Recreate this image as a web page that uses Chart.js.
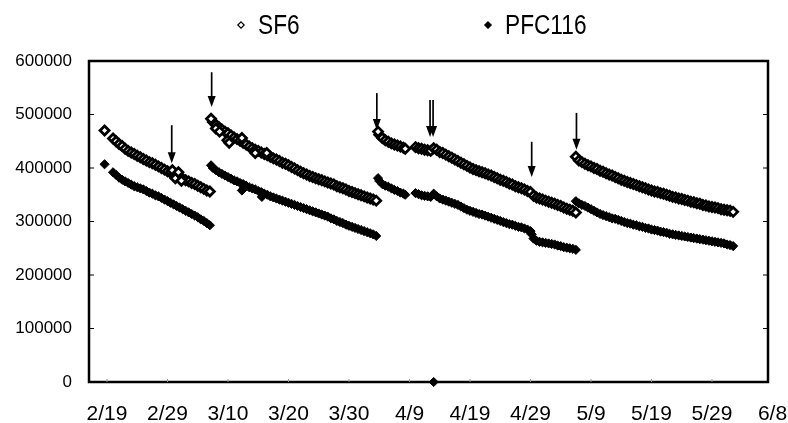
<!DOCTYPE html>
<html>
<head>
<meta charset="utf-8">
<title>SF6 / PFC116</title>
<script src="https://cdn.jsdelivr.net/npm/chart.js@4.4.1/dist/chart.umd.min.js"></script>
<style>
    html, body { margin: 0; padding: 0; background: #fff; }
    #wrap { width: 788px; height: 423px; position: relative; }
</style>
</head>
<body>
<div id="wrap"><canvas id="chart"></canvas></div>
<script>
(function() {
    'use strict';

    // Day 0 = 2/19. Inside each run the readings are half a day apart.
    const STEP = 0.5;

    const tickDays = [0, 10, 20, 30, 40, 50, 60, 70, 80, 90, 100, 110];
    const tickLabels = ['2/19', '2/29', '3/10', '3/20', '3/30', '4/9', '4/19', '4/29', '5/9', '5/19', '5/29', '6/8'];
    const yTicks = [0, 100000, 200000, 300000, 400000, 500000, 600000];

    // first day of each continuous run
    const runStarts = [1.0, 17.5, 45.0, 51.0, 77.5];

    // SF6, values in thousands
    const sf6Runs = [
        [455, 450, 445, 441, 436, 432, 429, 426, 423, 420, 417, 414, 411, 409, 406, 403, 400, 397, 394, 391,
         388, 387, 384, 380, 377, 375, 372, 370, 367, 364, 361, 358, 356],
        [486, 481, 476, 472, 468, 465, 461, 457, 454, 451, 447, 444, 440, 437, 434, 432, 429, 426, 424, 421,
         418, 416, 413, 410, 408, 405, 402, 399, 396, 393, 390, 388, 385, 383, 381, 379, 377, 375, 373, 371,
         369, 366, 364, 362, 360, 357, 355, 353, 351, 349, 347, 345, 343, 341, 339],
        [462, 456, 452, 449, 446, 444, 442, 440, 438],
        [439, 437, 436, 434, 433, 432, 437, 434, 430, 428, 425, 422, 419, 416, 413, 410, 407, 404, 401, 398,
         396, 394, 392, 390, 388, 386, 383, 381, 378, 376, 374, 371, 369, 366, 364, 362, 360, 357, 355, 348,
         345, 343, 341, 339, 337, 335, 333, 331, 329, 326, 324, 322, 320, 317],
        [421, 414, 411, 408, 405, 403, 400, 398, 395, 393, 390, 388, 386, 383, 381, 378, 376, 374, 372, 370,
         368, 366, 364, 362, 360, 358, 356, 355, 353, 352, 350, 348, 346, 345, 343, 342, 340, 339, 337, 336,
         334, 333, 331, 330, 328, 327, 326, 325, 323, 322, 321, 320, 318]
    ];
    // PFC116, values in thousands
    const pfcRuns = [
        [392, 387, 382, 378, 375, 372, 369, 366, 364, 362, 360, 357, 354, 352, 349, 347, 344, 341, 338, 335,
         332, 329, 326, 323, 320, 317, 314, 311, 308, 304, 301, 297, 293],
        [400, 396, 392, 389, 386, 383, 380, 377, 375, 372, 370, 367, 364, 362, 360, 357, 355, 352, 350, 347,
         345, 343, 341, 339, 337, 335, 333, 331, 329, 327, 325, 323, 321, 319, 317, 315, 313, 311, 309, 306,
         304, 301, 299, 297, 294, 292, 290, 288, 286, 284, 282, 280, 278, 276, 273],
        [376, 370, 367, 365, 362, 359, 357, 354, 352],
        [353, 351, 349, 348, 347, 346, 352, 347, 343, 341, 339, 337, 335, 333, 331, 328, 325, 322, 320, 318,
         316, 314, 313, 311, 309, 307, 305, 303, 301, 299, 297, 295, 294, 292, 290, 289, 287, 285, 282, 268,
         264, 262, 261, 260, 259, 258, 257, 255, 254, 252, 251, 250, 249, 247],
        [338, 334, 331, 329, 326, 323, 320, 317, 314, 312, 310, 308, 306, 305, 303, 301, 299, 297, 296, 294,
         293, 291, 290, 288, 287, 285, 284, 283, 281, 280, 279, 277, 276, 275, 274, 273, 272, 271, 270, 269,
         268, 267, 266, 265, 264, 263, 262, 261, 260, 259, 257, 256, 254]
    ];

    // loose readings outside the regular runs: [day, value in thousands]
    const sf6Extra = [[-0.4, 470], [10.8, 396], [11.3, 381], [11.8, 392], [12.3, 376], [17.2, 492],
        [18.0, 474], [18.6, 468], [19.9, 452], [20.2, 447], [22.3, 456], [24.5, 428], [26.4, 428],
        [44.8, 468], [49.3, 436]];
    const pfcExtra = [[-0.4, 407], [17.2, 405], [22.3, 358], [22.6, 362], [25.6, 346],
        [44.8, 381], [49.3, 350], [54.0, 0], [70.2, 276]];

    // injection arrows: day, top value, tip value
    const arrowDays = [10.7, 17.3, 44.6, 53.4, 53.9, 70.2, 77.6];
    const arrowTops = [480000, 579000, 540000, 527000, 527000, 449000, 503000];
    const arrowTips = [409000, 514000, 471000, 458000, 458000, 383000, 434000];

    function toPoints(runs, extra) {
        const pts = [];
        runs.forEach((vals, r) => {
            vals.forEach((v, i) => pts.push({ x: runStarts[r] + i * STEP, y: v * 1000 }));
        });
        extra.forEach(([d, v]) => pts.push({ x: d, y: v * 1000 }));
        return pts;
    }

    function diamond(ctx, x, y, r, fill) {
        ctx.beginPath();
        ctx.moveTo(x, y - r);
        ctx.lineTo(x + r, y);
        ctx.lineTo(x, y + r);
        ctx.lineTo(x - r, y);
        ctx.closePath();
        ctx.fillStyle = fill;
        ctx.fill();
        ctx.lineWidth = 1.2;
        ctx.strokeStyle = '#000';
        ctx.stroke();
    }

    const decor = {
        id: 'decor',
        beforeDatasetsDraw(chart) {
            const { ctx, chartArea: a, scales } = chart;
            ctx.save();
            ctx.strokeStyle = '#000';
            ctx.lineWidth = 2.5;
            ctx.strokeRect(a.left, a.top, a.right - a.left, a.bottom - a.top);
            ctx.lineWidth = 1.2;
            yTicks.forEach(v => {
                const y = scales.y.getPixelForValue(v);
                ctx.beginPath();
                ctx.moveTo(a.left, y); ctx.lineTo(a.left + 5, y);
                ctx.moveTo(a.right, y); ctx.lineTo(a.right - 5, y);
                ctx.stroke();
            });
            ctx.strokeStyle = '#999';
            ctx.lineWidth = 1;
            tickDays.forEach(d => {
                const x = scales.x.getPixelForValue(d);
                if (x > a.right) return;
                ctx.beginPath();
                ctx.moveTo(x, a.bottom); ctx.lineTo(x, a.bottom - 3);
                ctx.stroke();
            });
            ctx.restore();
        },
        afterDatasetsDraw(chart) {
            const { ctx, scales } = chart;
            ctx.save();
            ctx.strokeStyle = '#000';
            ctx.fillStyle = '#000';
            ctx.lineWidth = 1.7;
            arrowDays.forEach((d, i) => {
                const x = scales.x.getPixelForValue(d);
                const y0 = scales.y.getPixelForValue(arrowTops[i]);
                const y1 = scales.y.getPixelForValue(arrowTips[i]);
                ctx.beginPath();
                ctx.moveTo(x, y0); ctx.lineTo(x, y1 - 8);
                ctx.stroke();
                ctx.beginPath();
                ctx.moveTo(x - 4, y1 - 11);
                ctx.lineTo(x + 4, y1 - 11);
                ctx.lineTo(x, y1);
                ctx.closePath();
                ctx.fill();
            });
            ctx.restore();
        },
        afterDraw(chart) {
            const ctx = chart.ctx;
            ctx.save();
            ctx.font = '27px "Liberation Sans", Arial, sans-serif';
            ctx.textBaseline = 'middle';
            ctx.textAlign = 'left';
            const items = [['SF6', 241, '#fff'], ['PFC116', 488, '#000']];
            items.forEach(([label, x, fill]) => {
                diamond(ctx, x, 25, 3.2, fill);
                // the original lettering is a condensed face: squeeze it horizontally
                ctx.save();
                ctx.translate(x + 17, 27);
                ctx.scale(0.84, 1);
                ctx.fillStyle = '#000';
                ctx.fillText(label, 0, 0);
                ctx.restore();
            });
            ctx.restore();
        }
    };

    const ctx = document.getElementById('chart');
    new Chart(ctx, {
        type: 'scatter',
        data: {
            datasets: [{
                label: 'SF6',
                data: toPoints(sf6Runs, sf6Extra),
                pointStyle: 'rectRot',
                pointRadius: 4.5,
                backgroundColor: '#fff',
                borderColor: '#000',
                borderWidth: 2.8,
                clip: false
            }, {
                label: 'PFC116',
                data: toPoints(pfcRuns, pfcExtra),
                pointStyle: 'rectRot',
                pointRadius: 4.6,
                backgroundColor: '#000',
                borderColor: '#000',
                borderWidth: 1,
                clip: false
            }]
        },
        options: {
            responsive: true,
            maintainAspectRatio: false,
            animation: false,
            events: [],
            layout: { padding: { top: 61, right: 20, left: 0, bottom: 0 } },
            plugins: {
                legend: { display: false },
                tooltip: { enabled: false }
            },
            scales: {
                x: {
                    type: 'linear',
                    min: -2.975,
                    max: 109.26,
                    grid: { display: false },
                    border: { display: false },
                    afterBuildTicks: scale => {
                        scale.ticks = tickDays.map(v => ({ value: v }));
                    },
                    afterFit: scale => {
                        scale.height = 41;
                        scale.paddingLeft = 0;
                        scale.paddingRight = 0;
                    },
                    ticks: {
                        autoSkip: false,
                        maxRotation: 0,
                        padding: 12,
                        color: '#000',
                        font: { family: 'Liberation Sans, Arial, sans-serif', size: 21 },
                        callback: (v, i) => tickLabels[i]
                    }
                },
                y: {
                    min: 0,
                    max: 600000,
                    grid: { display: false },
                    border: { display: false },
                    afterBuildTicks: scale => {
                        scale.ticks = yTicks.map(v => ({ value: v }));
                    },
                    afterFit: scale => { scale.width = 89; },
                    ticks: {
                        padding: 9,
                        color: '#000',
                        font: { family: 'Liberation Sans, Arial, sans-serif', size: 17 },
                        callback: v => String(v)
                    }
                }
            }
        },
        plugins: [decor]
    });
})();
</script>
</body>
</html>
